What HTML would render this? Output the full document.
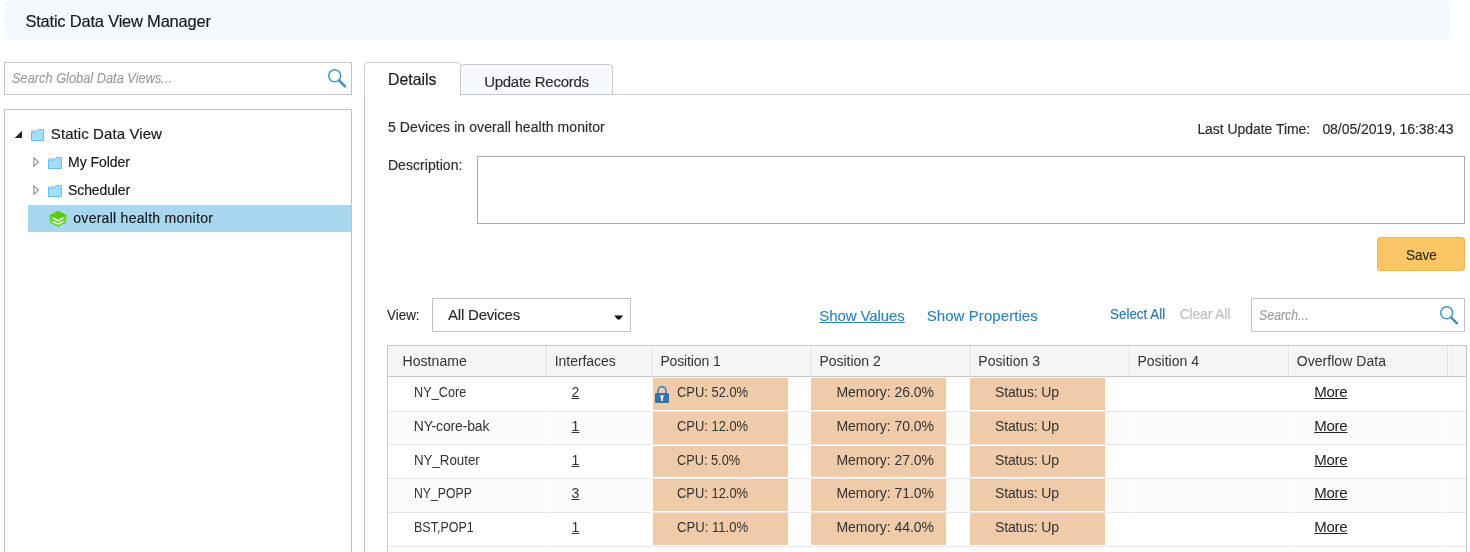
<!DOCTYPE html>
<html><head><meta charset="utf-8"><title>Static Data View Manager</title>
<style>
html,body{margin:0;padding:0;background:#fff;}
body{width:1470px;height:552px;position:relative;overflow:hidden;font-family:"Liberation Sans",sans-serif;}
.t{position:absolute;white-space:pre;font-family:"Liberation Sans",sans-serif;}
.k{-webkit-text-stroke:0.15px currentColor;}
.abs{position:absolute;box-sizing:border-box;}
.row{position:absolute;left:388px;width:1078px;}
.hl{position:absolute;left:388px;width:1078px;height:1px;background:#e9e9e9;}
.or{position:absolute;width:134.8px;height:31.8px;background:#efcba9;}
.vl{position:absolute;top:346px;height:30px;width:2px;background:linear-gradient(90deg,#e3e3e3 50%,#fcfcfc 50%);}
</style></head><body>
<!-- header band -->
<div class="abs" style="left:4px;top:1px;width:1447px;height:37.5px;background:#f5fafe;"></div>
<!-- left search -->
<div class="abs" style="left:4px;top:62px;width:348px;height:33px;border:1px solid #c4c4c4;background:#fff;"></div>
<svg class="abs" style="left:324px;top:66px" width="26" height="26" viewBox="0 0 26 26"><circle cx="10.7" cy="9.8" r="6" fill="none" stroke="#4a96c6" stroke-width="1.6"/><line x1="15.2" y1="14.4" x2="21" y2="20.3" stroke="#3f8cc0" stroke-width="2.4" stroke-linecap="round"/></svg>
<!-- tree box -->
<div class="abs" style="left:4px;top:109px;width:348px;height:460px;border:1px solid #c4c4c4;background:#fff;"></div>
<div class="abs" style="left:28px;top:205px;width:323px;height:26.5px;background:#a9d7f0;"></div>
<!-- tree icons -->
<svg class="abs" style="left:14px;top:130px" width="9" height="9" viewBox="0 0 9 9"><path d="M8 0.7 L8 8 L0.7 8 Z" fill="#262626"/></svg>
<svg class="abs" style="left:32.5px;top:157px" width="8" height="11" viewBox="0 0 8 11"><path d="M0.8 0.8 L5.5 5 L0.8 9.2 Z" fill="#fff" stroke="#a0a0a0" stroke-width="1.3"/></svg>
<svg class="abs" style="left:32.5px;top:185px" width="8" height="11" viewBox="0 0 8 11"><path d="M0.8 0.8 L5.5 5 L0.8 9.2 Z" fill="#fff" stroke="#a0a0a0" stroke-width="1.3"/></svg>
<svg class="abs" style="left:31px;top:129px" width="14" height="13" viewBox="0 0 14 13"><path d="M0.5 3 L5.8 3 L7.6 0.6 L12.6 0.6 L12.6 11.5 L0.5 11.5 Z" fill="#a3defb" stroke="#62bff0" stroke-width="1"/><rect x="0.1" y="1.3" width="5.7" height="1.6" fill="#c4c4c4"/></svg>
<svg class="abs" style="left:48px;top:157px" width="15" height="13" viewBox="0 0 15 13"><path d="M0.5 3 L6.4 3 L8.2 0.6 L13.4 0.6 L13.4 11.5 L0.5 11.5 Z" fill="#a3defb" stroke="#62bff0" stroke-width="1"/><rect x="0.1" y="1.3" width="6.3" height="1.6" fill="#c4c4c4"/></svg>
<svg class="abs" style="left:48px;top:185px" width="15" height="13" viewBox="0 0 15 13"><path d="M0.5 3 L6.4 3 L8.2 0.6 L13.4 0.6 L13.4 11.5 L0.5 11.5 Z" fill="#a3defb" stroke="#62bff0" stroke-width="1"/><rect x="0.1" y="1.3" width="6.3" height="1.6" fill="#c4c4c4"/></svg>
<svg class="abs" style="left:49px;top:210px" width="18" height="18" viewBox="0 0 18 18"><path d="M9 0.9 L17.5 5.2 L17.5 12.4 L9 16.9 L0.5 12.4 L0.5 5.2 Z" fill="#6bd52d"/><path d="M9 0.9 L17.5 5.2 L9 9.6 L0.5 5.2 Z" fill="#56cc0a"/><path d="M3.6 7.9 L9 10.7 L14.4 7.9" fill="none" stroke="#f4fff0" stroke-width="1.3"/><path d="M3.6 11.3 L9 14.1 L14.4 11.3" fill="none" stroke="#f4fff0" stroke-width="1.3"/><path d="M0 7.1 L1.6 7.9 L0 8.7 Z M18 7.1 L16.4 7.9 L18 8.7 Z M0 10.5 L1.6 11.3 L0 12.1 Z M18 10.5 L16.4 11.3 L18 12.1 Z" fill="#a9d7f0"/></svg>

<!-- right panel -->
<div class="abs" style="left:364px;top:94px;width:1110px;height:1px;background:#cfcfcf;"></div>
<div class="abs" style="left:364px;top:95px;width:1px;height:460px;background:#c2c2c2;"></div>
<!-- tabs -->
<div class="abs" style="left:364px;top:62px;width:97px;height:34px;border:1px solid #d4d4d4;border-bottom:none;border-radius:4px 4px 0 0;background:#fff;"></div>
<div class="abs" style="left:460px;top:64px;width:153px;height:31px;border:1px solid #c7c7c7;border-radius:4px 4px 0 0;background:#f6fafe;"></div>
<!-- description -->
<div class="abs" style="left:477px;top:156px;width:988px;height:68px;border:1px solid #ababab;background:#fff;"></div>
<!-- save -->
<div class="abs" style="left:1377px;top:237px;width:88px;height:34px;border:1px solid #f2b74a;border-radius:3px;background:#fcc566;"></div>
<!-- select -->
<div class="abs" style="left:432px;top:298px;width:199px;height:34px;border:1px solid #c4c4c4;background:#fff;"></div>
<svg class="abs" style="left:614px;top:314.6px" width="10" height="6" viewBox="0 0 10 6"><path d="M0.2 0.4 L9 0.4 L5.9 4.5 L3.5 4.5 Z" fill="#0a0a0a"/></svg>
<!-- search right -->
<div class="abs" style="left:1251px;top:298px;width:214px;height:34px;border:1px solid #c4c4c4;background:#fff;"></div>
<svg class="abs" style="left:1436px;top:303px" width="26" height="26" viewBox="0 0 26 26"><circle cx="10.7" cy="9.8" r="6" fill="none" stroke="#4a96c6" stroke-width="1.6"/><line x1="15.2" y1="14.4" x2="21" y2="20.3" stroke="#3f8cc0" stroke-width="2.4" stroke-linecap="round"/></svg>
<!-- table -->
<div class="abs" style="left:387px;top:345px;width:1080px;height:220px;border:1px solid #c8c8c8;background:#fff;"></div>
<div class="abs" style="left:388px;top:346px;width:1078px;height:30px;background:#f5f5f5;"></div>
<div class="abs" style="left:388px;top:376px;width:1078px;height:1px;background:#c8c8c8;"></div>
<div class="row" style="top:377.00px;height:34.30px;background:#fff"></div>
<div class="row" style="top:410.80px;height:34.30px;background:#fbfbfb"></div>
<div class="row" style="top:444.60px;height:34.30px;background:#fff"></div>
<div class="row" style="top:478.40px;height:34.30px;background:#fbfbfb"></div>
<div class="row" style="top:512.20px;height:34.30px;background:#fff"></div>
<div class="hl" style="top:410.50px"></div>
<div class="or" style="left:653px;top:378.00px;"></div>
<div class="or" style="left:811.2px;top:378.00px;"></div>
<div class="or" style="left:970px;top:378.00px;"></div>
<div class="hl" style="top:444.30px"></div>
<div class="or" style="left:653px;top:411.80px;"></div>
<div class="or" style="left:811.2px;top:411.80px;"></div>
<div class="or" style="left:970px;top:411.80px;"></div>
<div class="hl" style="top:478.10px"></div>
<div class="or" style="left:653px;top:445.60px;"></div>
<div class="or" style="left:811.2px;top:445.60px;"></div>
<div class="or" style="left:970px;top:445.60px;"></div>
<div class="hl" style="top:511.90px"></div>
<div class="or" style="left:653px;top:479.40px;"></div>
<div class="or" style="left:811.2px;top:479.40px;"></div>
<div class="or" style="left:970px;top:479.40px;"></div>
<div class="hl" style="top:545.70px"></div>
<div class="or" style="left:653px;top:513.20px;"></div>
<div class="or" style="left:811.2px;top:513.20px;"></div>
<div class="or" style="left:970px;top:513.20px;"></div>

<div class="vl" style="left:546px"></div><div class="vl" style="left:652px"></div><div class="vl" style="left:811px"></div><div class="vl" style="left:970px"></div><div class="vl" style="left:1129px"></div><div class="vl" style="left:1288px"></div><div class="vl" style="left:1447px"></div>
<div class="abs" style="left:546px;top:377px;width:1px;height:170px;background:rgba(255,255,255,0.75);"></div><div class="abs" style="left:652px;top:377px;width:1px;height:170px;background:rgba(255,255,255,0.75);"></div><div class="abs" style="left:1129px;top:377px;width:1px;height:170px;background:rgba(255,255,255,0.75);"></div><div class="abs" style="left:1288px;top:377px;width:1px;height:170px;background:rgba(255,255,255,0.75);"></div><div class="abs" style="left:1447px;top:377px;width:1px;height:170px;background:rgba(255,255,255,0.75);"></div>
<!-- lock -->
<svg class="abs" style="left:654px;top:385px" width="16" height="19" viewBox="0 0 16 19"><path d="M4.1 9 L4.1 5.6 A3.9 3.9 0 0 1 11.9 5.6 L11.9 9" fill="none" stroke="#4a84ba" stroke-width="1.7"/><rect x="1" y="8" width="14" height="10" rx="1.2" fill="#3872ab"/><circle cx="8" cy="11.6" r="1.7" fill="#f3f6fa"/><path d="M7 12 L9 12 L8.8 15.9 L7.2 15.9 Z" fill="#f3f6fa"/></svg>
<span class="t k" style="left:25.4px;top:11px;font-size:16.5px;line-height:20px;color:#161616;letter-spacing:-0.212px;">Static Data View Manager</span>
<span class="t k" style="left:12.0px;top:70px;font-size:14px;line-height:17px;color:#9a9ca0;letter-spacing:0px;transform:scaleX(0.9151);transform-origin:0 0;font-style:italic;">Search Global Data Views...</span>
<span class="t k" style="left:50.8px;top:125px;font-size:15px;line-height:18px;color:#161616;letter-spacing:0.088px;">Static Data View</span>
<span class="t k" style="left:68.1px;top:154px;font-size:14px;line-height:17px;color:#161616;letter-spacing:-0.067px;">My Folder</span>
<span class="t k" style="left:68.1px;top:182px;font-size:14px;line-height:17px;color:#161616;letter-spacing:-0.118px;">Scheduler</span>
<span class="t k" style="left:73.3px;top:210px;font-size:14px;line-height:17px;color:#161616;letter-spacing:0.273px;">overall health monitor</span>
<span class="t k" style="left:388.3px;top:69px;font-size:16.5px;line-height:20px;color:#161616;letter-spacing:0px;transform:scaleX(0.9616);transform-origin:0 0;">Details</span>
<span class="t k" style="left:484.2px;top:73px;font-size:15px;line-height:18px;color:#2b2b2b;letter-spacing:-0.277px;">Update Records</span>
<span class="t k" style="left:388.0px;top:119px;font-size:14px;line-height:17px;color:#2b2b2b;letter-spacing:0.082px;">5 Devices in overall health monitor</span>
<span class="t k" style="left:1197.4px;top:121px;font-size:14px;line-height:17px;color:#2b2b2b;letter-spacing:-0.052px;">Last Update Time:</span>
<span class="t k" style="left:1322.4px;top:121px;font-size:14px;line-height:17px;color:#2b2b2b;letter-spacing:-0.06px;">08/05/2019, 16:38:43</span>
<span class="t k" style="left:387.9px;top:157px;font-size:14px;line-height:17px;color:#2b2b2b;letter-spacing:0.053px;">Description:</span>
<span class="t k" style="left:1405.6px;top:247px;font-size:14.5px;line-height:17px;color:#2b2b2b;letter-spacing:0px;transform:scaleX(0.9316);transform-origin:0 0;">Save</span>
<span class="t k" style="left:387.4px;top:307px;font-size:14px;line-height:17px;color:#2b2b2b;letter-spacing:0px;transform:scaleX(0.9593);transform-origin:0 0;">View:</span>
<span class="t k" style="left:448.0px;top:306px;font-size:15px;line-height:18px;color:#2b2b2b;letter-spacing:-0.199px;">All Devices</span>
<span class="t k" style="left:819.3px;top:307px;font-size:15px;line-height:18px;color:#2f82bf;letter-spacing:-0.105px;text-decoration:underline;text-underline-offset:1px;">Show Values</span>
<span class="t k" style="left:926.7px;top:307px;font-size:15px;line-height:18px;color:#2f82bf;letter-spacing:0.074px;">Show Properties</span>
<span class="t k" style="left:1109.8px;top:306px;font-size:14px;line-height:17px;color:#2c74ae;letter-spacing:0px;transform:scaleX(0.9584);transform-origin:0 0;">Select All</span>
<span class="t k" style="left:1179.7px;top:306px;font-size:14px;line-height:17px;color:#bcc0c6;letter-spacing:-0.193px;">Clear All</span>
<span class="t k" style="left:1259.2px;top:307px;font-size:14px;line-height:17px;color:#9a9ca0;letter-spacing:0px;transform:scaleX(0.8834);transform-origin:0 0;font-style:italic;">Search...</span>
<span class="t" style="left:402.5px;top:353px;font-size:14px;line-height:17px;color:#333;letter-spacing:0.07px;">Hostname</span>
<span class="t" style="left:554.8px;top:353px;font-size:14px;line-height:17px;color:#333;letter-spacing:-0.065px;">Interfaces</span>
<span class="t" style="left:660.4px;top:353px;font-size:14px;line-height:17px;color:#333;letter-spacing:-0.132px;">Position 1</span>
<span class="t" style="left:819.4px;top:353px;font-size:14px;line-height:17px;color:#333;letter-spacing:-0.02px;">Position 2</span>
<span class="t" style="left:978.3px;top:353px;font-size:14px;line-height:17px;color:#333;letter-spacing:0.024px;">Position 3</span>
<span class="t" style="left:1137.4px;top:353px;font-size:14px;line-height:17px;color:#333;letter-spacing:0.013px;">Position 4</span>
<span class="t" style="left:1296.7px;top:353px;font-size:14px;line-height:17px;color:#333;letter-spacing:0.05px;">Overflow Data</span>
<span class="t" style="left:413.7px;top:384px;font-size:14px;line-height:17px;color:#333;letter-spacing:0px;transform:scaleX(0.9081);transform-origin:0 0;">NY_Core</span>
<span class="t" style="left:571.5px;top:384px;font-size:14px;line-height:17px;color:#333;letter-spacing:0px;text-decoration:underline;">2</span>
<span class="t" style="left:677.2px;top:384px;font-size:14px;line-height:17px;color:#333;letter-spacing:0px;transform:scaleX(0.9228);transform-origin:0 0;">CPU: 52.0%</span>
<span class="t" style="left:836.5px;top:384px;font-size:14px;line-height:17px;color:#333;letter-spacing:-0.046px;">Memory: 26.0%</span>
<span class="t" style="left:995.0px;top:384px;font-size:14px;line-height:17px;color:#333;letter-spacing:-0.153px;">Status: Up</span>
<span class="t" style="left:1314.3px;top:383px;font-size:15px;line-height:18px;color:#222;letter-spacing:-0.262px;text-decoration:underline;">More</span>
<span class="t" style="left:413.7px;top:418px;font-size:14px;line-height:17px;color:#333;letter-spacing:-0.15px;">NY-core-bak</span>
<span class="t" style="left:571.5px;top:418px;font-size:14px;line-height:17px;color:#333;letter-spacing:0px;text-decoration:underline;">1</span>
<span class="t" style="left:677.2px;top:418px;font-size:14px;line-height:17px;color:#333;letter-spacing:0px;transform:scaleX(0.9228);transform-origin:0 0;">CPU: 12.0%</span>
<span class="t" style="left:836.5px;top:418px;font-size:14px;line-height:17px;color:#333;letter-spacing:-0.046px;">Memory: 70.0%</span>
<span class="t" style="left:995.0px;top:418px;font-size:14px;line-height:17px;color:#333;letter-spacing:-0.153px;">Status: Up</span>
<span class="t" style="left:1314.3px;top:417px;font-size:15px;line-height:18px;color:#222;letter-spacing:-0.262px;text-decoration:underline;">More</span>
<span class="t" style="left:413.7px;top:452px;font-size:14px;line-height:17px;color:#333;letter-spacing:0px;transform:scaleX(0.9500);transform-origin:0 0;">NY_Router</span>
<span class="t" style="left:571.5px;top:452px;font-size:14px;line-height:17px;color:#333;letter-spacing:0px;text-decoration:underline;">1</span>
<span class="t" style="left:677.2px;top:452px;font-size:14px;line-height:17px;color:#333;letter-spacing:0px;transform:scaleX(0.9112);transform-origin:0 0;">CPU: 5.0%</span>
<span class="t" style="left:836.5px;top:452px;font-size:14px;line-height:17px;color:#333;letter-spacing:-0.046px;">Memory: 27.0%</span>
<span class="t" style="left:995.0px;top:452px;font-size:14px;line-height:17px;color:#333;letter-spacing:-0.153px;">Status: Up</span>
<span class="t" style="left:1314.3px;top:451px;font-size:15px;line-height:18px;color:#222;letter-spacing:-0.262px;text-decoration:underline;">More</span>
<span class="t" style="left:413.7px;top:485px;font-size:14px;line-height:17px;color:#333;letter-spacing:0px;transform:scaleX(0.8739);transform-origin:0 0;">NY_POPP</span>
<span class="t" style="left:571.5px;top:485px;font-size:14px;line-height:17px;color:#333;letter-spacing:0px;text-decoration:underline;">3</span>
<span class="t" style="left:677.2px;top:485px;font-size:14px;line-height:17px;color:#333;letter-spacing:0px;transform:scaleX(0.9228);transform-origin:0 0;">CPU: 12.0%</span>
<span class="t" style="left:836.5px;top:485px;font-size:14px;line-height:17px;color:#333;letter-spacing:-0.046px;">Memory: 71.0%</span>
<span class="t" style="left:995.0px;top:485px;font-size:14px;line-height:17px;color:#333;letter-spacing:-0.153px;">Status: Up</span>
<span class="t" style="left:1314.3px;top:484px;font-size:15px;line-height:18px;color:#222;letter-spacing:-0.262px;text-decoration:underline;">More</span>
<span class="t" style="left:413.7px;top:519px;font-size:14px;line-height:17px;color:#333;letter-spacing:0px;transform:scaleX(0.8936);transform-origin:0 0;">BST,POP1</span>
<span class="t" style="left:571.5px;top:519px;font-size:14px;line-height:17px;color:#333;letter-spacing:0px;text-decoration:underline;">1</span>
<span class="t" style="left:677.2px;top:519px;font-size:14px;line-height:17px;color:#333;letter-spacing:0px;transform:scaleX(0.9355);transform-origin:0 0;">CPU: 11.0%</span>
<span class="t" style="left:836.5px;top:519px;font-size:14px;line-height:17px;color:#333;letter-spacing:-0.046px;">Memory: 44.0%</span>
<span class="t" style="left:995.0px;top:519px;font-size:14px;line-height:17px;color:#333;letter-spacing:-0.153px;">Status: Up</span>
<span class="t" style="left:1314.3px;top:518px;font-size:15px;line-height:18px;color:#222;letter-spacing:-0.262px;text-decoration:underline;">More</span>
</body></html>
